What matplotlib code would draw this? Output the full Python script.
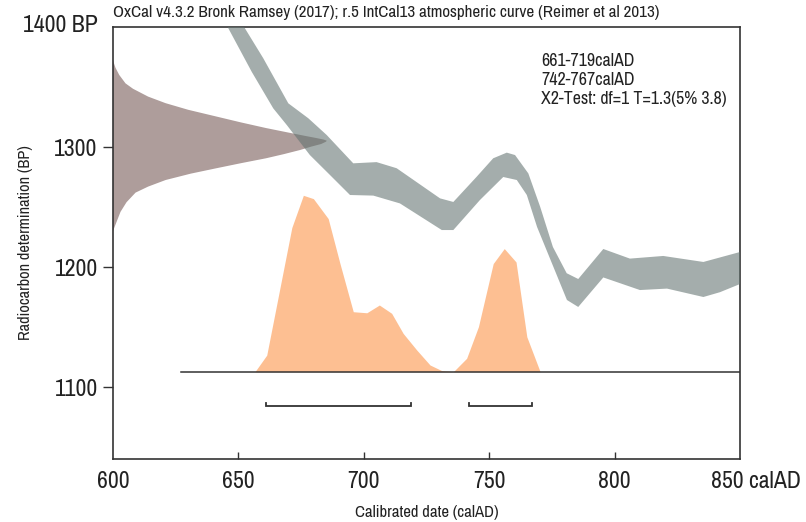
import matplotlib
matplotlib.use("Agg")
import matplotlib.pyplot as plt
from matplotlib import font_manager
from matplotlib.transforms import ScaledTranslation
import numpy as np

# pick a condensed font if one is installed, else Liberation Sans
cond = None
for f in font_manager.fontManager.ttflist:
    if f.style != 'normal' or f.weight not in (400, 'normal', 'regular'):
        continue
    if 'Narrow' in f.name or 'Condensed' in f.name or str(f.stretch) in ('condensed', 'semi-condensed'):
        cond = f
        if 'Narrow' in f.name:
            break
if cond is not None:
    plt.rcParams['font.family'] = [cond.name, 'DejaVu Sans']
    plt.rcParams['font.stretch'] = cond.stretch
    K = 1.18
else:
    plt.rcParams['font.family'] = ['Liberation Sans', 'DejaVu Sans']
    K = 1.0

# --- Calibration curve band (IntCal13), upper and lower edges (calAD, BP) ---
curve_up_x = [646, 652.6, 659.9, 669.9, 677.9, 685.2, 695.8, 705.1, 713.1, 730.4, 735.7,
              745.0, 751.6, 757.0, 760.3, 765.6, 770.3, 775.4, 780.9, 785.5, 795.5, 806.1,
              819.4, 835.4, 850.0]
curve_up_y = [1421, 1398.9, 1374, 1336.4, 1323.9, 1310, 1286.4, 1287.4, 1282.3, 1257.2, 1254.2,
              1275.2, 1290.6, 1295.3, 1293.3, 1278, 1250.3, 1216.7, 1194.8, 1190, 1215, 1207,
              1209.2, 1204.2, 1212.5]
curve_lo_x = [640, 646, 655.3, 663.9, 669.3, 678.5, 686.5, 694.5, 703.8, 714.4, 731.1, 735.7,
              746.3, 755.6, 761.0, 765.0, 769.1, 781.0, 785.5, 795.5, 810.1, 820.9, 835.4,
              842.0, 850.0]
curve_lo_y = [1422, 1398.9, 1362.7, 1332.2, 1318.3, 1293.3, 1276.7, 1260, 1259.5, 1253, 1230.8,
              1230.8, 1255.8, 1275, 1272.5, 1260, 1233.3, 1172.5, 1166.7, 1191.3, 1180.8, 1182,
              1175, 1179, 1185.8]

# --- Radiocarbon determination distribution on the y axis: (width in years, BP) ---
rc_width = [0, 1, 2.5, 5, 8, 14, 21, 30, 41, 51, 61, 70, 76, 81, 84, 85.2,
            85, 83, 79, 74.6, 68, 61, 51, 41, 31, 21, 14, 9, 5.4, 3, 1.5, 0]
rc_bp = [1372, 1366, 1360, 1353, 1348.5, 1342, 1336.5, 1331, 1325.5, 1320.5, 1315.8, 1312,
         1309.5, 1307.5, 1306.2, 1305.3,
         1304.5, 1302.5, 1300.3, 1297.5, 1294, 1290.6, 1286.5, 1282.2, 1277.8, 1272.5,
         1267, 1262, 1254, 1246, 1238, 1230]

# --- Calibrated date probability (relative) ---
cal_x = [656.6, 661.3, 671.3, 675.9, 679.9, 685.8, 690.5, 695.8, 701.2, 706.2, 711.1, 715.7,
         721.1, 726.4, 731.1, 735.7, 741.0, 745.7, 751.6, 756.0, 760.7, 765.0, 770.3]
cal_p = [0, 0.094, 0.817, 1.0, 0.981, 0.868, 0.613, 0.34, 0.334, 0.378, 0.331, 0.217,
         0.123, 0.038, 0.006, 0, 0.076, 0.255, 0.613, 0.698, 0.622, 0.198, 0]

ranges = [(661, 719), (742, 767)]
annot = ["661-719calAD", "742-767calAD", "X2-Test: df=1 T=1.3(5% 3.8)"]

xticks = [600, 650, 700, 750, 800, 850]
xticklabels = ["600", "650", "700", "750", "800", "850 calAD"]
yticks = [1100, 1200, 1300, 1400]
yticklabels = ["1100", "1200", "1300", "1400 BP"]

W, H = 806, 522
fig = plt.figure(figsize=(W / 100, H / 100), dpi=100)
ax = fig.add_axes([113 / W, 1 - 459 / H, (740 - 113) / W, (459 - 27) / H])
ax.set_xlim(600, 850)
ax.set_ylim(1040, 1400)

# radiocarbon distribution (brown)
ax.fill(np.array(rc_width) + 600, rc_bp, color='#937c7a', alpha=0.75, lw=0, zorder=2)

# calibration band (grey)
band_x = np.concatenate([curve_up_x, curve_lo_x[::-1]])
band_y = np.concatenate([curve_up_y, curve_lo_y[::-1]])
ax.fill(band_x, band_y, color='#627370', alpha=0.58, lw=0, zorder=3)

# calibrated distribution (orange)
base = 1112.75
scale = 147.0
ax.fill_between(cal_x, base, base + np.array(cal_p) * scale, color='#fdbf92', lw=0, zorder=2)
ax.plot([627, 850], [base, base], color='#333333', lw=1.1, zorder=4)

# ranges
ry = 1084
for a, b in ranges:
    ax.plot([a, a, b, b], [ry + 2.5, ry, ry, ry + 2.5], color='#333333', lw=1.3,
            solid_joinstyle='miter', zorder=4)

for s in ax.spines.values():
    s.set_color('#333333')
    s.set_linewidth(1.2)

ax.set_xticks(xticks)
ax.set_xticklabels(xticklabels)
ax.set_yticks(yticks)
ax.set_yticklabels(yticklabels)
ax.tick_params(axis='x', direction='in', length=5, width=1, color='#333333',
               labelsize=14.5 * K, pad=9, labelcolor='#222222')
ax.tick_params(axis='y', direction='out', length=7, width=1, color='#333333',
               labelsize=14.5 * K, pad=4, labelcolor='#222222')
for t in ax.xaxis.get_major_ticks():
    if t.get_loc() in (600, 850):
        t.tick1line.set_visible(False)
for t in ax.yaxis.get_major_ticks():
    if t.get_loc() == 1400:
        t.tick1line.set_visible(False)
fig.canvas.draw()
lab = ax.get_xticklabels()[-1]
lab.set_horizontalalignment('left')
lab.set_transform(lab.get_transform() + ScaledTranslation(-29 / 100, 0, fig.dpi_scale_trans))
lab0 = ax.get_yticklabels()[-1]
lab0.set_transform(lab0.get_transform() + ScaledTranslation(0, 3 / 100, fig.dpi_scale_trans))

ax.set_ylabel("Radiocarbon determination (BP)", fontsize=10.0 * K, color='#222222')
ax.yaxis.set_label_coords((33 - 113) / 627, 0.5)
ax.set_xlabel("Calibrated date (calAD)", fontsize=10.2 * K, color='#222222')
ax.xaxis.set_label_coords(0.5, (459 - 505) / 432)

fig.text(113 / W, 1 - 12 / H, "OxCal v4.3.2 Bronk Ramsey (2017); r.5 IntCal13 atmospheric curve (Reimer et al 2013)",
         fontsize=10.4 * K, color='#222222', va='center', ha='left')
for i, s in enumerate(annot):
    fig.text(541 / W, 1 - (61 + 19 * i) / H, s, fontsize=10.9 * K, color='#222222', va='center', ha='left')

fig.savefig("out.png", dpi=100)
